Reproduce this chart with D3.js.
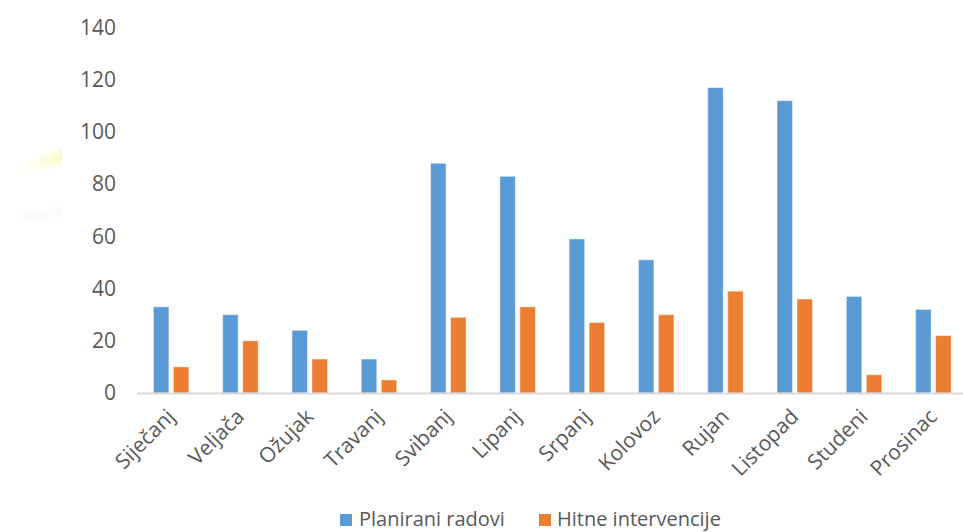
<!DOCTYPE html>
<html>
<head>
<meta charset="utf-8">
<script src="https://cdn.jsdelivr.net/npm/d3@7/dist/d3.min.js"></script>
<style>
  html, body { margin: 0; padding: 0; background: #fff; }
  svg { display: block; }
  text { font-family: "Open Sans", "Noto Sans", sans-serif; fill: #595959; }
</style>
</head>
<body>
<svg id="chart" width="963" height="532"></svg>
<script>
// Monthly counts of works
const months = ["Siječanj", "Veljača", "Ožujak", "Travanj", "Svibanj", "Lipanj",
                "Srpanj", "Kolovoz", "Rujan", "Listopad", "Studeni", "Prosinac"];
const planned = [33, 30, 24, 13, 88, 83, 59, 51, 117, 112, 37, 32];
const urgent  = [10, 20, 13, 5, 29, 33, 27, 30, 39, 36, 7, 22];
const seriesNames = ["Planirani radovi", "Hitne intervencije"];
const seriesColors = ["#5B9BD5", "#ED7D31"];
const yTicks = [0, 20, 40, 60, 80, 100, 120, 140];

const svg = d3.select("#chart");

// faint smudge on the left margin
const defs = svg.append("defs");
defs.append("filter").attr("id", "soft").append("feGaussianBlur").attr("stdDeviation", 3);
const lg = defs.append("linearGradient").attr("id", "glow").attr("x1", 0).attr("x2", 1);
lg.append("stop").attr("offset", 0).attr("stop-color", "#fffbe0").attr("stop-opacity", 0.15);
lg.append("stop").attr("offset", 1).attr("stop-color", "#fbf3a0").attr("stop-opacity", 0.8);
defs.append("clipPath").attr("id", "leftclip").append("rect")
  .attr("x", 0).attr("y", 120).attr("width", 62).attr("height", 120);
const smudge = svg.append("g").attr("clip-path", "url(#leftclip)");
smudge.append("path").attr("d", "M10,168 L70,148 L70,162 L16,172 Z")
  .attr("fill", "url(#glow)").attr("filter", "url(#soft)");
smudge.append("path").attr("d", "M16,219 L70,208 L70,211 L20,221 Z")
  .attr("fill", "#d6e5f2").attr("opacity", 0.45).attr("filter", "url(#soft)");

const x0 = d3.scaleBand().domain(months).range([136.5, 968]).paddingInner(0).paddingOuter(0);
const y = d3.scaleLinear().domain([0, 140]).range([393, 27.5]);

const barW = 15.5, gap = 4.5;

// y-axis labels (no axis line, no gridlines)
const yAxis = d3.axisLeft(y).tickValues(yTicks).tickSize(0).tickPadding(0);
const gy = svg.append("g").attr("transform", "translate(116,0)").call(yAxis);
gy.select(".domain").remove();
gy.selectAll("text").attr("font-size", 21).attr("fill", "#595959")
  .style("font-family", "'Open Sans', sans-serif");

// bars
const rows = months.map((m, i) => ({ m, vals: [planned[i], urgent[i]] }));
const groups = svg.append("g").selectAll("g").data(rows).join("g")
  .attr("transform", d => `translate(${x0(d.m) + x0.bandwidth() / 2},0)`);
groups.selectAll("rect").data(d => d.vals.map((v, k) => ({ v, k }))).join("rect")
  .attr("x", d => d.k === 0 ? -(barW + gap / 2) : gap / 2)
  .attr("width", barW)
  .attr("y", d => y(d.v))
  .attr("height", d => y(0) - y(d.v))
  .attr("fill", d => seriesColors[d.k])
  .attr("stroke", "#ffffff").attr("stroke-opacity", 0.45).attr("stroke-width", 1);

// baseline
const xAxis = d3.axisBottom(x0).tickSize(0).tickFormat("");
const gx = svg.append("g").attr("transform", `translate(0,${y(0)})`).call(xAxis);
gx.select(".domain").attr("stroke", "#d9d9d9").attr("stroke-width", 2);

// rotated month labels
svg.append("g").selectAll("text").data(months).join("text")
  .attr("transform", d => `translate(${x0(d) + x0.bandwidth() / 2 + 5},418) rotate(-45)`)
  .attr("text-anchor", "end")
  .attr("font-size", 21)
  .text(d => d);

// legend
const legend = svg.append("g");
const items = [{ x: 340, tx: 359 }, { x: 539, tx: 557 }];
items.forEach((it, k) => {
  legend.append("rect").attr("x", it.x).attr("y", 514).attr("width", 12).attr("height", 12)
    .attr("fill", seriesColors[k]);
  legend.append("text").attr("x", it.tx).attr("y", 526).attr("font-size", 20)
    .text(seriesNames[k]);
});
</script>
</body>
</html>
